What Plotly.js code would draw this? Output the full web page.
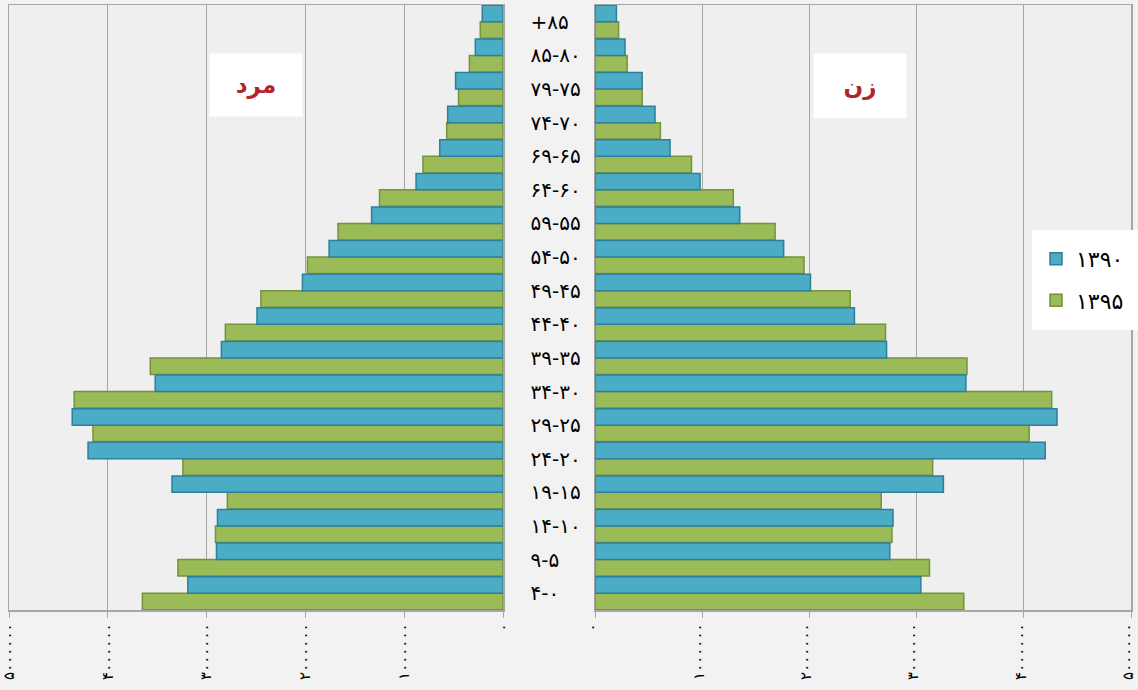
<!DOCTYPE html>
<html>
<head>
<meta charset="utf-8">
<script src="https://cdn.plot.ly/plotly-3.0.1.min.js"></script>
<style>html,body{margin:0;padding:0;background:#f2f2f2;}#chart{width:1138px;height:690px;}</style>
</head>
<body>
<div id="chart"></div>
<script>
// Age groups, bottom (0-4) to top (85+), written in visual order
const ageGroups = ['۴-۰','۹-۵','۱۴-۱۰','۱۹-۱۵','۲۴-۲۰','۲۹-۲۵','۳۴-۳۰','۳۹-۳۵','۴۴-۴۰','۴۹-۴۵','۵۴-۵۰','۵۹-۵۵','۶۴-۶۰','۶۹-۶۵','۷۴-۷۰','۷۹-۷۵','۸۵-۸۰','+۸۵'];

const male1390   = [3190000,2900000,2890000,3350000,4200000,4360000,3520000,2850000,2490000,2030000,1760000,1330000,880000,640000,560000,480000,280000,210000];
const male1395   = [3650000,3290000,2910000,2790000,3240000,4150000,4340000,3570000,2810000,2450000,1980000,1670000,1250000,810000,570000,450000,340000,230000];
const female1390 = [3040000,2750000,2780000,3250000,4200000,4310000,3460000,2720000,2420000,2010000,1760000,1350000,980000,700000,560000,440000,280000,200000];
const female1395 = [3440000,3120000,2770000,2670000,3150000,4050000,4260000,3470000,2710000,2380000,1950000,1680000,1290000,900000,610000,440000,300000,220000];

const seriesNames = ['۱۳۹۰','۱۳۹۵'];
const panelTitles = ['مرد','زن'];
const tickVals = [0,1000000,2000000,3000000,4000000,5000000];
const tickText = ['۰','۱۰۰۰۰۰۰','۲۰۰۰۰۰۰','۳۰۰۰۰۰۰','۴۰۰۰۰۰۰','۵۰۰۰۰۰۰'];

const blue = '#4bacc6', blueLine = '#2e7f99';
const green = '#9bbb59', greenLine = '#75923c';
const W = 1138;

function bar(x, name, color, line, xa, show, rank) {
  return {type:'bar', orientation:'h', x:x, y:ageGroups, name:name, xaxis:xa, yaxis:'y',
    legendgroup: name, legendrank: rank,
    marker:{color:color, line:{color:line, width:1.5}}, showlegend:show, hoverinfo:'x+y'};
}

const data = [
  bar(male1395, seriesNames[1], green, greenLine, 'x', false, 2),
  bar(male1390, seriesNames[0], blue, blueLine, 'x', false, 1),
  bar(female1395, seriesNames[1], green, greenLine, 'x2', true, 2),
  bar(female1390, seriesNames[0], blue, blueLine, 'x2', true, 1)
];

const font = 'DejaVu Sans, Noto Sans, sans-serif';
const xcommon = {
  tickvals: tickVals, ticktext: tickText, tickangle: -90,
  showgrid: true, gridcolor: '#a6a6a6', gridwidth: 1,
  showline: true, linecolor: '#a6a6a6', linewidth: 1.5, mirror: true,
  ticks: 'outside', ticklen: 6, tickcolor: '#a6a6a6',
  ticklabeloverflow: 'allow',
  tickfont: {family: font, size: 15, color: '#000'},
  zeroline: false, fixedrange: true, automargin: false
};

const layout = {
  width: 1138, height: 690,
  margin: {l: 0, r: 0, t: 5, b: 80},
  paper_bgcolor: '#f2f2f2', plot_bgcolor: '#efefef',
  barmode: 'group', bargap: 0.02, bargroupgap: 0,
  xaxis: Object.assign({}, xcommon, {domain: [9/W, 503/W], range: [5000000, 0]}),
  xaxis2: Object.assign({}, xcommon, {domain: [595/W, 1131/W], range: [0, 5000000], anchor: 'y', ticklabelshift: -3}),
  yaxis: {
    type: 'category', categoryorder: 'array', categoryarray: ageGroups,
    anchor: 'x', side: 'right', showgrid: false, zeroline: false,
    showline: true, linecolor: '#a6a6a6', linewidth: 1.5, mirror: 'all',
    ticks: '', ticklabelstandoff: 22, automargin: false,
    tickfont: {family: font, size: 20, color: '#000'}, fixedrange: true
  },
  legend: {
    x: 1036/W, y: 0.615, xanchor: 'left', yanchor: 'top',
    bgcolor: 'rgba(0,0,0,0)', traceorder: 'grouped', tracegroupgap: 10,
    font: {family: font, size: 22, color: '#000'},
    itemwidth: 30, borderwidth: 0
  },
  shapes: [
    {type: 'rect', xref: 'paper', yref: 'paper', x0: 1032/W, x1: 1.0, y0: (610-330)/605, y1: (610-230)/605,
     fillcolor: '#ffffff', line: {width: 0}, layer: 'above'}
  ],
  annotations: [
    {text: '<b>' + panelTitles[0] + '</b>', xref: 'x', yref: 'paper', x: 2500000, y: (610-85)/605,
     xanchor: 'center', yanchor: 'middle',
     showarrow: false, bgcolor: '#ffffff', width: 90, height: 60,
     font: {family: font, size: 23, color: '#b3232b'}},
    {text: '<b>' + panelTitles[1] + '</b>', xref: 'x2', yref: 'paper', x: 2470000, y: (610-86)/605,
     xanchor: 'center', yanchor: 'middle',
     showarrow: false, bgcolor: '#ffffff', width: 90, height: 62,
     font: {family: font, size: 23, color: '#b3232b'}}
  ]
};

Plotly.newPlot('chart', data, layout, {displayModeBar: false, staticPlot: true});
</script>
</body>
</html>
